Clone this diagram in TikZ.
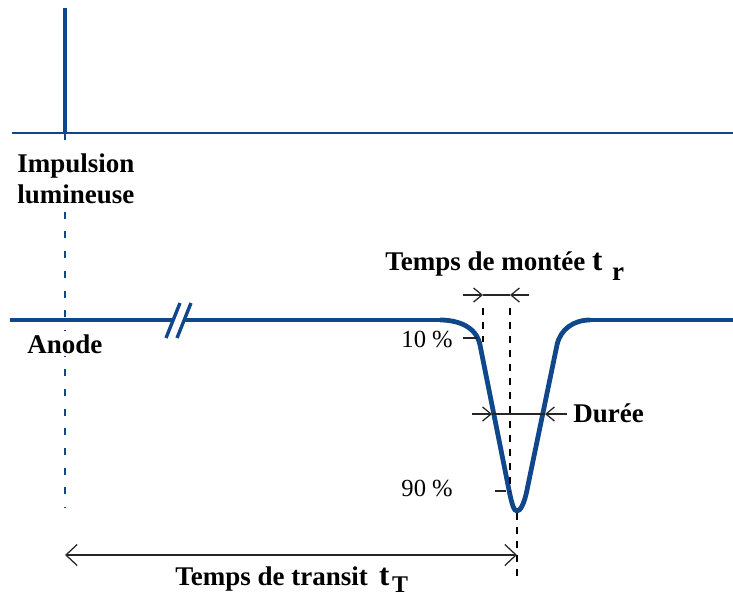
\documentclass[tikz,border=0pt]{standalone}
\usepackage{fontspec}
\setmainfont{Liberation Serif}
\usetikzlibrary{arrows.meta}
\definecolor{sigblue}{RGB}{16,70,138}
\newcommand{\tsub}[3][4pt]{{\fontsize{22}{22}\selectfont t}\hspace{#1}\raisebox{#2}{#3}}

\begin{document}
\begin{tikzpicture}[x=0.025cm, y=-0.025cm,
  lbl/.style={font=\fontsize{19.2}{20}\selectfont\bfseries, inner xsep=0pt, inner ysep=2pt},
  pct/.style={font=\fontsize{17.5}{18}\selectfont, inner sep=0pt},
  sig/.style={sigblue, line width=2.9pt},
  pulse/.style={sigblue, line width=3.4pt},
  axe/.style={sigblue, line width=1.4pt},
  brk/.style={sigblue, line width=2.4pt},
  dsh/.style={black, line width=0.8pt, dash pattern=on 5pt off 5pt},
  ar/.style={-{Straight Barb[length=6pt, width=10pt]}, black!85, line width=0.9pt},
  lin/.style={black!85, line width=0.9pt}]
\useasboundingbox (0,0) rectangle (733,601);
% reference dashed line
\coordinate (ref0) at (65,133);
\coordinate (ref1) at (65,508);
\draw[sigblue, line width=0.9pt, dash pattern=on 5pt off 9pt] (ref0) -- (ref1);
% light pulse
\coordinate (p0) at (12,133);
\coordinate (p1) at (733,133);
\coordinate (imptop) at (65,8);
\draw[axe] (p0) -- (p1);
\draw[sig] (ref0) -- (imptop);
\node[lbl, fill=white, anchor=base west] (impl) at (17,172) {Impulsion};
\node[lbl, fill=white, anchor=base west] (lum) at (17,203) {lumineuse};
% anode signal
\coordinate (a0) at (10,320);
\coordinate (b1) at (173,320);
\coordinate (b2) at (184,320);
\coordinate (a1) at (733,320);
\draw[sig] (a0) -- (b1);
\draw[sig] (b2) -- (440,320);
\draw[pulse] (440,320) to[out=0,in=101] (480,345) -- (509,490)
  .. controls (512,505) and (514,511) .. (517,511)
  .. controls (520,511) and (524,505) .. (527,490) -- (557,345)
  to[out=78,in=180] (590,320);
\draw[sig] (590,320) -- (a1);
\draw[brk] (166,338) -- (180,303);
\draw[brk] (177,338) -- (191,303);
\node[lbl, fill=white, anchor=base west] (anode) at (27,353) {Anode};
% rise time
\coordinate (r10) at (483,308);
\coordinate (r10b) at (483,342);
\coordinate (r90) at (510,308);
\coordinate (r90b) at (510,492);
\draw[dsh] (r10) -- (r10b);
\draw[dsh] (r90) -- (r90b);
\coordinate (trA) at (463,295);
\coordinate (trB) at (529,295);
\draw[ar] (trA) -- (r10 |- trA);
\draw[ar] (trB) -- (r90 |- trB);
\draw[lin] (r10 |- trA) -- (r90 |- trB);
\node[lbl, anchor=base west] (mont) at (385,270) {Temps de montée \tsub[7pt]{-7.5pt}{r}};
% 10 % and 90 %
\coordinate (t10a) at (463,338);
\coordinate (t10b) at (478,338);
\draw[lin] (t10a) -- (t10b);
\node[pct, anchor=base east] (p10) at (453,347) {10 \%};
\coordinate (t90a) at (495,491);
\coordinate (t90b) at (506,491);
\draw[lin] (t90a) -- (t90b);
\node[pct, anchor=base east] (p90) at (453,496) {90 \%};
% width
\coordinate (dA) at (472,414);
\coordinate (dL) at (492,414);
\coordinate (dR) at (545,414);
\coordinate (dB) at (567,414);
\draw[ar] (dA) -- (dL);
\draw[ar] (dB) -- (dR);
\draw[lin] (dL) -- (dR);
\node[lbl, anchor=base west] (duree) at (573,422) {Durée};
% transit time
\coordinate (mn) at (517,513);
\coordinate (mnb) at (517,580);
\draw[dsh] (mn) -- (mnb);
\coordinate (tt0) at (65,555);
\draw[black!85, line width=0.9pt, {Straight Barb[length=8pt, width=15pt]}-{Straight Barb[length=8pt, width=15pt]}] (tt0) -- (tt0 -| mn);
\node[lbl, anchor=base west] (transit) at (175,585) {Temps de transit\hspace{8pt}\tsub[2pt]{-5.5pt}{\fontsize{17}{17}\selectfont T}};
\end{tikzpicture}
\end{document}
